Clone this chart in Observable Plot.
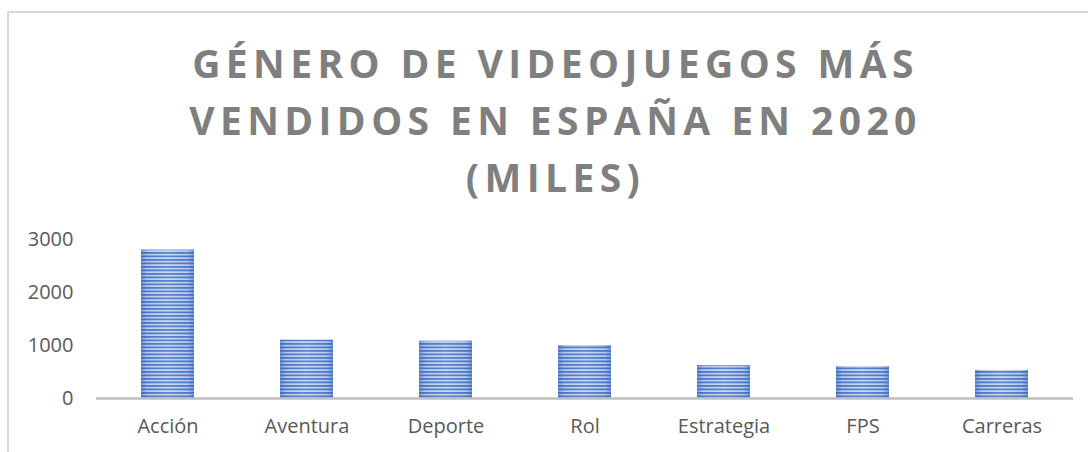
<!DOCTYPE html>
<html>
<head>
<meta charset="utf-8">
<script src="https://cdn.jsdelivr.net/npm/d3@7"></script>
<script src="https://cdn.jsdelivr.net/npm/@observablehq/plot@0.6"></script>
<style>
  html, body { margin: 0; padding: 0; background: #fff; overflow: hidden; }
  body { width: 1088px; height: 452px; position: relative; font-family: "Open Sans", "Liberation Sans", sans-serif; }
  #frame { position: absolute; left: 7px; top: 11px; width: 1100px; height: 460px; border: 2px solid #d9d9d9; box-sizing: border-box; }
  #title { position: absolute; left: 7px; top: 34px; width: 1097px; text-align: center; font-weight: 700; font-size: 39px; line-height: 57px; letter-spacing: 5.4px; color: #7f7f7f; white-space: nowrap; }
  #chart { position: absolute; left: 0; top: 0; }
</style>
</head>
<body>
<div id="frame"></div>
<div id="title">GÉNERO DE VIDEOJUEGOS MÁS<br>VENDIDOS EN ESPAÑA EN 2020<br>(MILES)</div>
<div id="chart"></div>
<script>
const categories = ["Acción", "Aventura", "Deporte", "Rol", "Estrategia", "FPS", "Carreras"];
const values = [2800, 1100, 1080, 1000, 620, 600, 530];
const yTicks = [0, 1000, 2000, 3000];

const data = categories.map((c, i) => ({genero: c, ventas: values[i]}));

const plot = Plot.plot({
  width: 1088,
  height: 452,
  marginTop: 239,
  marginBottom: 54,
  marginLeft: 96,
  marginRight: 15,
  style: {fontFamily: "'Open Sans', 'Liberation Sans', sans-serif", fontSize: "20px", color: "#595959", background: "transparent"},
  x: {domain: categories, paddingInner: 0.62, paddingOuter: 0.31, label: null, tickSize: 0, tickPadding: 20},
  y: {domain: [0, 3000], ticks: yTicks, label: null, tickSize: 0, tickPadding: 23, tickFormat: d => String(d)},
  marks: [
    Plot.barY(data, {x: "genero", y: "ventas", fill: "url(#stripes)"}),
    Plot.barY(data, {x: "genero", y: "ventas", fill: "url(#edges)"}),
    Plot.ruleY([0], {stroke: "#bfbfbf", strokeWidth: 2.5})
  ]
});

const svg = d3.select(plot);
const defs = svg.insert("defs", ":first-child");
const pat = defs.append("pattern")
  .attr("id", "stripes")
  .attr("patternUnits", "userSpaceOnUse")
  .attr("width", 10)
  .attr("height", 3.5);
pat.append("rect").attr("width", 10).attr("height", 3.5).attr("fill", "#c8d7f1");
pat.append("rect").attr("width", 10).attr("height", 1.8).attr("fill", "#4a78c9");
const grad = defs.append("linearGradient").attr("id", "edges").attr("x1", 0).attr("x2", 1).attr("y1", 0).attr("y2", 0);
grad.append("stop").attr("offset", "0%").attr("stop-color", "#3a66b8").attr("stop-opacity", 0.55);
grad.append("stop").attr("offset", "12%").attr("stop-color", "#3a66b8").attr("stop-opacity", 0.1);
grad.append("stop").attr("offset", "50%").attr("stop-color", "#ffffff").attr("stop-opacity", 0.1);
grad.append("stop").attr("offset", "88%").attr("stop-color", "#3a66b8").attr("stop-opacity", 0.1);
grad.append("stop").attr("offset", "100%").attr("stop-color", "#3a66b8").attr("stop-opacity", 0.55);

document.getElementById("chart").appendChild(plot);
</script>
</body>
</html>
